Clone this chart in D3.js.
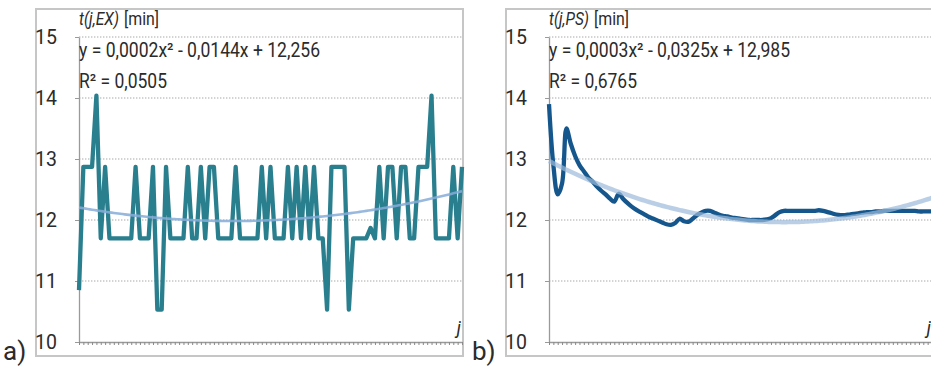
<!DOCTYPE html>
<html>
<head>
<meta charset="utf-8">
<script src="https://cdn.jsdelivr.net/npm/d3@7"></script>
<style>
  html, body { margin: 0; padding: 0; background: #fff; }
  svg { display: block; }
  text { font-family: Roboto, "Liberation Sans", sans-serif; fill: #2b2b2b; }
</style>
</head>
<body>
<svg id="rootSVG" width="931" height="367"></svg>
<script>
// y axis ticks (minutes)
const yTicks = [10, 11, 12, 13, 14, 15];

// t(j,EX) - read off panel a)
const exTimes = [
  10.85, 12.87, 12.87, 12.87, 14.04, 11.7, 12.87, 11.7, 11.7, 11.7,
  11.7, 11.7, 11.7, 12.87, 11.7, 11.7, 11.7, 12.87, 10.53, 10.53,
  12.87, 11.7, 11.7, 11.7, 11.7, 12.87, 11.7, 11.7, 12.87, 11.7,
  12.87, 12.87, 11.7, 11.7, 11.7, 11.7, 12.87, 11.7, 11.7, 11.7,
  11.7, 11.7, 12.87, 11.7, 12.87, 11.7, 11.7, 11.7, 12.87, 11.7,
  12.87, 11.7, 12.87, 11.7, 12.87, 11.7, 11.7, 10.53, 12.87, 12.87,
  12.87, 12.87, 10.53, 11.7, 11.7, 11.7, 11.7, 11.87, 11.7, 12.87,
  11.7, 12.87, 12.87, 11.7, 12.87, 12.87, 11.7, 11.7, 12.87, 12.87,
  12.87, 14.04, 11.7, 11.7, 11.7, 11.7, 12.87, 11.7, 12.87
];

// t(j,PS) - read off panel b)
const psTimes = [
  13.9, 12.9, 12.42, 12.6, 13.5, 13.25, 13.05, 12.9, 12.8, 12.7,
  12.63, 12.55, 12.48, 12.42, 12.35, 12.3, 12.43, 12.35, 12.28, 12.22,
  12.17, 12.13, 12.09, 12.05, 12.02, 11.99, 11.96, 11.93, 11.92, 11.95,
  12.02, 11.98, 11.97, 12.02, 12.08, 12.12, 12.15, 12.15, 12.12, 12.09,
  12.07, 12.06, 12.04, 12.03, 12.02, 12.01, 12.0, 12.0, 12.0, 12.0,
  12.01, 12.03, 12.08, 12.13, 12.15, 12.15, 12.15, 12.15, 12.15, 12.15,
  12.15, 12.15, 12.16, 12.15, 12.13, 12.11, 12.09, 12.08, 12.08, 12.09,
  12.1, 12.11, 12.12, 12.13, 12.13, 12.14, 12.14, 12.15, 12.15, 12.15,
  12.15, 12.15, 12.15, 12.15, 12.15, 12.14, 12.14, 12.14, 12.14
];

const jCategories = d3.range(1, exTimes.length + 1);

const panels = [
  {
    tag: 'a)', tagX: 3, frameX: 36, frameW: 427, left: 79,
    title: 't(j,EX)', eq: 'y = 0,0002x² - 0,0144x + 12,256', r2: 'R² = 0,0505',
    values: exTimes, color: '#2a7f8e', width: 4.3, curve: d3.curveLinear,
    trendColor: '#86acd8', trendWidth: 2.6, trendOpacity: 0.85
  },
  {
    tag: 'b)', tagX: 472, frameX: 506, frameW: 440, left: 549,
    title: 't(j,PS)', eq: 'y = 0,0003x² - 0,0325x + 12,985', r2: 'R² = 0,6765',
    values: psTimes, color: '#15578c', width: 4.3, curve: d3.curveCatmullRom.alpha(0.5),
    trendColor: '#9dbbdc', trendWidth: 4.5, trendOpacity: 0.7
  }
];

const plotW = 383;
const plotTop = 37, plotBottom = 342;

// least squares 2nd order polynomial, like the spreadsheet trendline
function quadFit(xs, ys) {
  let s = [0, 0, 0, 0, 0], t = [0, 0, 0];
  xs.forEach((x, i) => {
    const y = ys[i];
    for (let k = 0; k < 5; k++) s[k] += Math.pow(x, k);
    for (let k = 0; k < 3; k++) t[k] += y * Math.pow(x, k);
  });
  const M = [[s[0], s[1], s[2]], [s[1], s[2], s[3]], [s[2], s[3], s[4]]];
  const det = m => m[0][0] * (m[1][1] * m[2][2] - m[1][2] * m[2][1])
    - m[0][1] * (m[1][0] * m[2][2] - m[1][2] * m[2][0])
    + m[0][2] * (m[1][0] * m[2][1] - m[1][1] * m[2][0]);
  const D = det(M);
  const coef = [0, 1, 2].map(c => det(M.map((row, r) => row.map((v, k) => k === c ? t[r] : v))) / D);
  return x => coef[0] + coef[1] * x + coef[2] * x * x;
}

const rootSVG = d3.select('#rootSVG');

panels.forEach(p => {
  const g = rootSVG.append('g');

  const x = d3.scaleLinear().domain([1, jCategories.length]).range([p.left, p.left + plotW]);
  const y = d3.scaleLinear().domain([10, 15]).range([plotBottom, plotTop]);

  g.append('rect')
    .attr('x', p.frameX).attr('y', 9)
    .attr('width', p.frameW).attr('height', 347)
    .attr('fill', 'none').attr('stroke', '#c6c6c6').attr('stroke-width', 2);

  // dotted grid
  g.selectAll('.grid').data(yTicks.filter(d => d > 10)).enter().append('line')
    .attr('x1', p.left).attr('x2', p.left + plotW)
    .attr('y1', d => y(d)).attr('y2', d => y(d))
    .attr('stroke', '#a8a8a8').attr('stroke-width', 1.1)
    .attr('stroke-dasharray', '1.4,1.6');

  const yAxis = g.append('g')
    .attr('transform', `translate(${p.left},0)`)
    .call(d3.axisLeft(y).tickValues(yTicks).tickFormat(d3.format('d'))
      .tickSize(4).tickPadding(18).tickSizeOuter(0));
  yAxis.select('.domain').attr('stroke', '#9a9a9a').attr('stroke-width', 1.3);
  yAxis.selectAll('line').attr('stroke', '#9a9a9a');
  yAxis.selectAll('text').attr('font-size', 19.5).attr('fill', '#2b2b2b')
    .attr('font-family', 'Roboto, sans-serif');

  const xAxis = g.append('g')
    .attr('transform', `translate(0,${plotBottom})`)
    .call(d3.axisBottom(x).tickValues(jCategories).tickSize(3).tickSizeOuter(0).tickFormat(''));
  xAxis.select('.domain').attr('stroke', '#9a9a9a').attr('stroke-width', 1.3);
  xAxis.selectAll('line').attr('stroke', '#8a8a8a');

  const line = d3.line()
    .x((d, i) => x(jCategories[i]))
    .y(d => y(d))
    .curve(p.curve);

  g.append('path')
    .datum(p.values)
    .attr('d', line)
    .attr('fill', 'none')
    .attr('stroke', p.color)
    .attr('stroke-width', p.width)
    .attr('stroke-linejoin', 'round');

  // trendline
  const fit = quadFit(jCategories, p.values);
  const fx = d3.range(1, jCategories.length + 0.01, 0.5);
  g.append('path')
    .datum(fx)
    .attr('d', d3.line().x(d => x(d)).y(d => y(fit(d))))
    .attr('fill', 'none')
    .attr('stroke', p.trendColor)
    .attr('stroke-width', p.trendWidth)
    .attr('stroke-opacity', p.trendOpacity);

  // axis title, italic symbol + unit
  g.append('text').attr('x', p.left).attr('y', 25).attr('font-size', 18)
    .attr('font-style', 'italic')
    .attr('textLength', 40).attr('lengthAdjust', 'spacingAndGlyphs')
    .text(p.title);
  g.append('text').attr('x', p.left + 45).attr('y', 25).attr('font-size', 18)
    .attr('textLength', 35).attr('lengthAdjust', 'spacingAndGlyphs')
    .text('[min]');

  g.append('text').attr('x', p.left).attr('y', 57).attr('font-size', 20)
    .attr('textLength', 241).attr('lengthAdjust', 'spacingAndGlyphs').text(p.eq);
  g.append('text').attr('x', p.left).attr('y', 88).attr('font-size', 20)
    .attr('textLength', 88).attr('lengthAdjust', 'spacingAndGlyphs').text(p.r2);

  g.append('text')
    .attr('x', p.left + plotW - 1).attr('y', 334)
    .attr('text-anchor', 'end').attr('font-size', 18).attr('font-style', 'italic')
    .text('j');

  g.append('text')
    .attr('x', p.tagX).attr('y', 360)
    .attr('font-family', '"Liberation Serif", "DejaVu Serif", serif')
    .attr('font-size', 26).attr('fill', '#111')
    .text(p.tag);
});
</script>
</body>
</html>
